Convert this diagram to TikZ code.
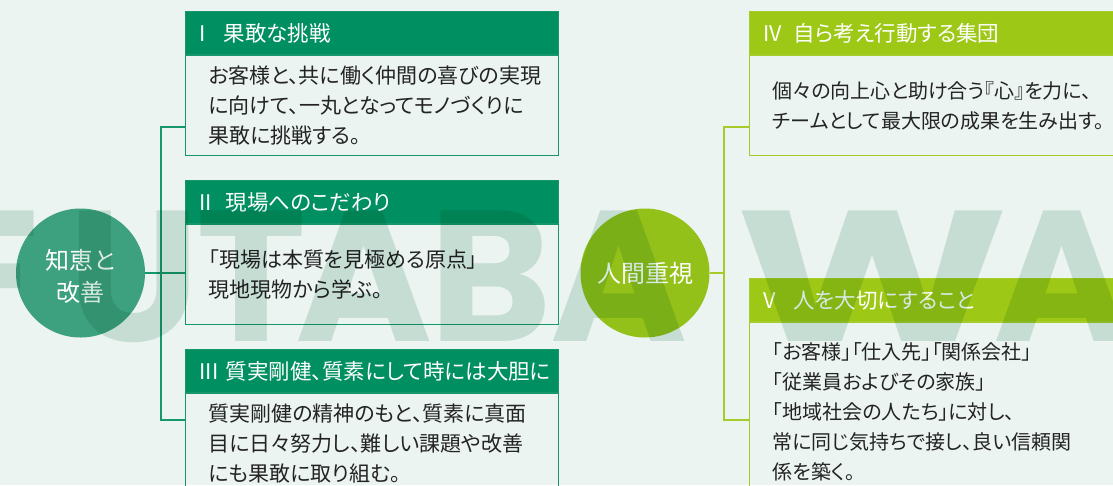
\documentclass[tikz,border=0pt]{standalone}
\usepackage{fontspec}
\setmainfont{Noto Sans CJK JP}[RawFeature=+palt]
\newfontfamily\wmfont{Poppins}
\usetikzlibrary{positioning}
\definecolor{bgcol}{RGB}{235,244,240}
\definecolor{grnhead}{RGB}{0,143,96}
\definecolor{grncirc}{RGB}{61,161,127}
\definecolor{grnline}{RGB}{22,152,108}
\definecolor{limehead}{RGB}{157,200,21}
\definecolor{limecirc}{RGB}{147,193,26}
\definecolor{limeline}{RGB}{165,204,42}
\definecolor{wmcol}{RGB}{215,232,226}
\definecolor{txtcol}{RGB}{35,35,35}
\newcommand\rnum[2]{\makebox[#1][l]{#2}}

\begin{document}
\begin{tikzpicture}[x=1pt, y=-1pt,
    head/.style={draw=#1line, fill=#1head, line width=1.2pt, text=white, minimum height=43pt,
        inner xsep=14pt, inner ysep=0pt, align=left, font=\fontsize{21.5}{24}\selectfont},
    body/.style={draw=#1line, line width=1.2pt, text=txtcol, minimum height=100pt,
        inner xsep=23pt, inner ysep=0pt, align=left},
    headL/.style={head=grn, text width=345pt},
    headR/.style={head=lime, text width=352pt},
    bodyL/.style={body=grn, text width=327pt, font=\fontsize{21}{30}\selectfont},
    bodyR/.style={body=lime, text width=334pt, font=\fontsize{20}{30}\selectfont},
    circ/.style={circle, fill=#1circ, text=white, minimum size=129pt, inner sep=0pt,
        align=center, font=\fontsize{24}{32}\selectfont},
    lineL/.style={draw=grnline, line width=1.6pt},
    lineR/.style={draw=limeline, line width=1.6pt},
    wmark/.style={text=wmcol, inner sep=0pt, anchor=base,
        font=\wmfont\bfseries\fontsize{186}{186}\selectfont}
]
\fill[bgcol] (0,0) rectangle (1113,485);
\useasboundingbox (0,0) rectangle (1113,485);

% left column
\node[headL, anchor=north west] (h1) at (185,11) {\rnum{24pt}{I}果敢な挑戦};
\node[bodyL, below=0pt of h1] (b1) {お客様と、共に働く仲間の喜びの実現\\に向けて、一丸となってモノづくりに\\果敢に挑戦する。};
\node[headL, anchor=north west] (h2) at (185,180) {\rnum{26pt}{II}現場へのこだわり};
\node[bodyL, below=0pt of h2] (b2) {「現場は本質を見極める原点」\\現地現物から学ぶ。};
\node[headL, anchor=north west] (h3) at (185,349) {\rnum{26pt}{III}質実剛健、質素にして時には大胆に};
\node[bodyL, below=0pt of h3] (b3) {質実剛健の精神のもと、質素に真面\\目に日々努力し、難しい課題や改善\\にも果敢に取り組む。};

% right column
\node[headR, anchor=north west] (h4) at (749,11) {\rnum{30pt}{IV}自ら考え行動する集団};
\node[bodyR, below=0pt of h4] (b4) {個々の向上心と助け合う『心』を力に、\\チームとして最大限の成果を生み出す。};
\node[headR, anchor=north west] (h5) at (749,278) {\rnum{30pt}{V}人を大切にすること};
\node[bodyR, below=0pt of h5, minimum height=178pt] (b5) {「お客様」「仕入先」「関係会社」\\「従業員およびその家族」\\「地域社会の人たち」に対し、\\常に同じ気持ちで接し、良い信頼関\\係を築く。};

% circles
\node[circ=grn] (c1) at (80.5,273) {\raisebox{0pt}[\dimexpr\height+12pt][\depth]{\begin{tabular}{@{}c@{}}知恵と\\改善\end{tabular}}};
\node[circ=lime] (c2) at (645,273) {人間重視};

% connectors
\coordinate (j1) at (161,127);
\coordinate (j2) at (161,420);
\coordinate (k1) at (724,127);
\coordinate (k2) at (724,420);
\draw[lineL] (b1.west |- j1) -- (j1) -- (j2) -- (b3.west |- j2);
\draw[lineL] (c1.east) -- (b2.west |- c1.east);
\draw[lineR] (b4.west |- k1) -- (k1) -- (k2) -- (b5.west |- k2);
\draw[lineR] (c2.east) -- (k1 |- c2.east);

% watermark
\begin{scope}[blend mode=multiply]
\foreach \ch/\xc/\sx [count=\i] in {F/-12/1,U/134/1,T/251/1,A/364/1,B/491/1,A/619/1,W/872/1.4,A/1062/1}
    \node[wmark] (w\i) at (\xc,341) {\scalebox{\sx}[1]{\ch}};
\end{scope}
\end{tikzpicture}
\end{document}
